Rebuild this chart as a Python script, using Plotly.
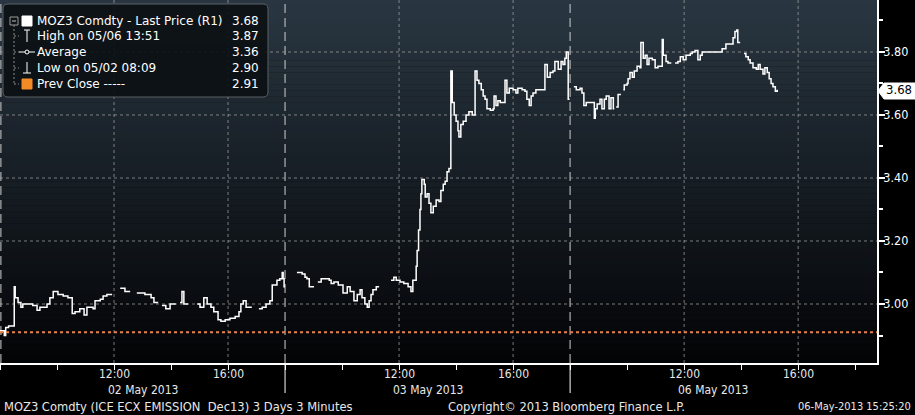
import plotly.graph_objects as go

# ---------------- data ----------------
DAYS = ["02 May 2013", "03 May 2013", "06 May 2013"]
SESSION_OPEN_MIN = 8 * 60      # 08:00
SESSION_LEN_MIN = 10 * 60      # 08:00 - 18:00

day1_times = ["08:00", "08:09", "08:12", "08:18", "08:30", "08:32", "08:38", "08:44", "08:48",
              "09:09", "09:18", "09:24", "09:39", "09:45", "09:52", "10:02", "10:13", "10:23",
              "10:32", "10:38", "10:48", "10:57", "11:03", "11:16", "11:20", "11:31", "11:37",
              "11:45", "11:56", "12:13", "12:23", "12:34", "12:48", "13:05", "13:18", "13:24",
              "13:33", "13:41", "13:49", "13:58", "14:10", "14:19", "14:23", "14:27", "14:36",
              "14:55", "15:01", "15:09", "15:16", "15:24", "15:30", "15:39", "15:45", "15:54",
              "16:04", "16:15", "16:23", "16:27", "16:32", "16:38", "16:50", "17:05", "17:12",
              "17:20", "17:28", "17:33", "17:43", "17:49", "17:54", "17:56", "17:58", "18:00"]
day1_prices = [2.915, 2.90, 2.925, 2.93, 3.055, 3.02, 3.005, 2.99, 3.00,
               2.995, 2.98, 2.99, 3.00, 3.02, 3.04, 3.03, 3.025, 3.02,
               2.97, 2.975, 2.985, 2.965, 2.99, 2.985, 3.01, 3.015, 3.025,
               3.03, None, 3.05, 3.04, None, 3.035, 3.03, 3.02, 3.005,
               None, 2.995, 2.985, 3.00, None, 3.005, 3.04, 3.00, None,
               3.00, 2.99, 3.02, 3.00, 2.99, 2.975, 2.95, 2.945, 2.95,
               2.955, 2.96, 2.975, 3.00, 3.01, 2.99, None, 2.985, 2.99,
               3.00, 3.01, 3.06, 3.075, 3.08, 3.10, 3.08, 3.055, 3.055]

day2_times = ["08:25", "08:36", "08:42", "08:46", "08:51", "09:01", "09:09", "09:16", "09:33",
              "09:37", "09:43", "09:52", "10:02", "10:11", "10:17", "10:25", "10:32", "10:38",
              "10:42", "10:48", "10:53", "10:57", "11:01", "11:05", "11:12", "11:18", "11:43",
              "11:49", "11:54", "12:02", "12:10", "12:19", "12:25", "12:29", "12:36", "12:38",
              "12:41", "12:44", "12:46", "12:48", "12:53", "12:55", "12:59", "13:03", "13:07",
              "13:12", "13:18", "13:24", "13:28", "13:33", "13:37", "13:41", "13:45", "13:49",
              "13:52", "13:56", "14:00", "14:04", "14:06", "14:10", "14:15", "14:21", "14:27",
              "14:34", "14:40", "14:44", "14:48", "14:53", "14:57", "15:01", "15:05", "15:12",
              "15:18", "15:20", "15:24", "15:28", "15:33", "15:43", "15:47", "15:52", "16:00",
              "16:06", "16:10", "16:19", "16:25", "16:29", "16:34", "16:38", "16:42", "16:48",
              "17:07", "17:12", "17:18", "17:24", "17:28", "17:35", "17:41", "17:45", "17:49",
              "17:52", "17:56", "17:59"]
day2_prices = [3.10, 3.095, 3.085, 3.08, 3.055, None, 3.07, 3.08, 3.075,
               3.065, 3.07, 3.06, 3.035, 3.055, 3.04, 3.01, 3.03, 3.045,
               3.02, 3.00, 2.99, 3.01, 3.03, 3.045, 3.055, None, 3.075,
               3.085, 3.075, 3.07, 3.065, 3.055, 3.04, 3.075, 3.12, 3.17,
               3.235, 3.30, 3.35, 3.395, 3.38, 3.34, 3.35, 3.32, 3.29,
               3.31, 3.33, 3.325, 3.36, 3.38, 3.39, 3.42, 3.43, 3.74,
               3.64, 3.60, 3.58, 3.55, 3.53, 3.57, 3.58, 3.60, 3.61,
               3.60, 3.74, 3.71, 3.70, 3.68, 3.66, 3.65, 3.62, 3.615,
               3.62, 3.66, 3.63, 3.645, 3.64, 3.71, 3.67, 3.685, 3.68,
               3.67, 3.685, 3.68, 3.675, 3.65, 3.63, 3.66, 3.67, 3.68,
               3.76, 3.72, 3.735, 3.74, 3.77, 3.745, 3.77, 3.76, 3.78,
               3.80, 3.65, 3.65]

day3_times = ["08:08", "08:13", "08:21", "08:25", "08:29", "08:34", "08:51", "08:53", "08:57",
              "09:03", "09:07", "09:12", "09:16", "09:22", "09:26", "09:31", "09:33", "09:37",
              "09:41", "09:47", "09:52", "09:54", "10:00", "10:02", "10:06", "10:11", "10:15",
              "10:21", "10:27", "10:29", "10:34", "10:38", "10:42", "10:46", "10:53", "10:59",
              "11:05", "11:14", "11:16", "11:22", "11:26", "11:33", "11:41", "11:47", "11:52",
              "11:58", "12:04", "12:13", "12:17", "12:23", "12:29", "12:34", "12:38", "13:20",
              "13:28", "13:43", "13:47", "13:51", "13:53", "13:58", "14:06", "14:10", "14:15",
              "14:19", "14:25", "14:32", "14:36", "14:40", "14:46", "14:50", "14:55", "14:59",
              "15:03", "15:07", "15:12", "15:16"]
day3_prices = [3.69, 3.68, 3.685, 3.67, 3.63, 3.64, 3.59, 3.62, 3.635,
               3.65, 3.62, 3.65, 3.66, 3.62, 3.655, 3.62, None, 3.625,
               3.665, None, 3.68, 3.695, 3.70, 3.715, 3.735, 3.72, 3.74,
               3.755, 3.75, 3.83, 3.78, 3.79, 3.76, 3.78, 3.775, 3.75,
               3.755, 3.84, 3.79, 3.77, 3.765, None, 3.765, 3.77, 3.785,
               3.775, 3.79, 3.795, 3.80, 3.805, 3.775, 3.79, 3.80, 3.81,
               3.825, 3.845, 3.865, 3.87, 3.83, None, 3.795, 3.785, 3.775,
               3.765, 3.75, 3.745, 3.76, 3.745, 3.73, 3.75, 3.735, 3.715,
               3.70, 3.69, 3.675, 3.68]

PREV_CLOSE = 2.91
LEGEND_ROWS = [("MOZ3 Comdty - Last Price (R1)", "3.68"),
               ("High on 05/06 13:51", "3.87"),
               ("Average", "3.36"),
               ("Low on 05/02 08:09", "2.90"),
               ("Prev Close -----", "2.91")]
LAST_PRICE = 3.68
Y_MAJOR = [3.00, 3.20, 3.40, 3.60, 3.80]
Y_MINOR = [2.90, 3.10, 3.30, 3.50, 3.70, 3.90]
X_LABEL_HOURS = ["12:00", "16:00"]
X_TICK_HOURS = ["08:00", "10:00", "12:00", "14:00", "16:00"]
FOOT_LEFT = "MOZ3 Comdty (ICE ECX EMISSION  Dec13) 3 Days 3 Minutes"
FOOT_MID = "Copyright\u00a9 2013 Bloomberg Finance L.P."
FOOT_RIGHT = "06-May-2013 15:25:20"

# ---------------- layout geometry ----------------
W, H = 915, 415
PL, PR, PT, PB = 0, 877, 0, 363       # plot area in pixels
Y_RANGE = [2.8127, 3.965]
X_MAX = 3 * SESSION_LEN_MIN + 46
NARROW = "DejaVu Sans Condensed"


def to_x(day, hhmm):
    h, m = hhmm.split(":")
    return day * SESSION_LEN_MIN + int(h) * 60 + int(m) - SESSION_OPEN_MIN


def px(x):
    return (x - PL) / (PR - PL)


def py(y):
    return 1 - (y - PT) / (PB - PT)


xs, ys = [], []
for d, (times, prices) in enumerate([(day1_times, day1_prices),
                                     (day2_times, day2_prices),
                                     (day3_times, day3_prices)]):
    prev = None
    for t, p in zip(times, prices):
        X = to_x(d, t)
        if p is None:
            if prev is not None:
                xs.append(X); ys.append(prev)
            xs.append(X); ys.append(None)
            prev = None
        else:
            xs.append(X); ys.append(p)
            prev = p
    xs.append(xs[-1]); ys.append(None)

fig = go.Figure()
fig.add_trace(go.Scatter(x=xs, y=ys, mode="lines", line=dict(color="white", width=1.5, shape="hv"),
                         connectgaps=False, hoverinfo="skip", showlegend=False))

shapes = []
# gradient background
N = 60
top = (41, 54, 65)
bot = (3, 4, 6)
for i in range(N):
    f = i / (N - 1)
    c = tuple(int(round(top[k] + (bot[k] - top[k]) * f)) for k in range(3))
    shapes.append(dict(type="rect", xref="paper", yref="paper", x0=0, x1=1,
                       y0=1 - (i + 1) / N, y1=1 - i / N + 0.001, line=dict(width=0),
                       fillcolor="rgb(%d,%d,%d)" % c, layer="below"))
# horizontal grid
for v in Y_MAJOR:
    shapes.append(dict(type="line", xref="paper", yref="y", x0=0, x1=1, y0=v, y1=v,
                       line=dict(color="rgba(160,160,160,0.75)", width=1, dash="3px,3px"), layer="below"))
# vertical grid (12:00 and 16:00)
for d in range(3):
    for t in X_LABEL_HOURS:
        shapes.append(dict(type="line", xref="x", yref="paper", x0=to_x(d, t), x1=to_x(d, t), y0=0, y1=1,
                           line=dict(color="rgba(160,160,160,0.75)", width=1, dash="3px,3px"), layer="below"))
# day separators
for d in range(0, 3):
    xp = px(PL + (PR - PL) * (d * SESSION_LEN_MIN) / X_MAX) + (0.001 if d == 0 else 0)
    shapes.append(dict(type="line", xref="paper", yref="paper", x0=xp, x1=xp, y0=0, y1=1,
                       line=dict(color="rgba(190,190,190,0.85)", width=1.3, dash="9px,5px"), layer="below"))
    if d > 0:
        shapes.append(dict(type="line", xref="paper", yref="paper", x0=xp, x1=xp, y0=py(393), y1=0,
                           line=dict(color="white", width=1)))
# prev close
shapes.append(dict(type="line", xref="paper", yref="y", x0=0, x1=1, y0=PREV_CLOSE, y1=PREV_CLOSE,
                   line=dict(color="#e8814a", width=2, dash="dot")))

# legend box (rounded)
lx0, lx1, ly0, ly1, r = 3, 268, 4, 97, 5
path = ("M {a},{b} L {c},{b} Q {x1},{b} {x1},{d} L {x1},{e} Q {x1},{y1} {c},{y1} "
        "L {a},{y1} Q {x0},{y1} {x0},{e} L {x0},{d} Q {x0},{b} {a},{b} Z").format(
    a=px(lx0 + r), b=py(ly0), c=px(lx1 - r), d=py(ly0 + r), e=py(ly1 - r),
    x0=px(lx0), x1=px(lx1), y1=py(ly1))
shapes.append(dict(type="path", xref="paper", yref="paper", path=path,
                   fillcolor="rgba(12,16,20,0.92)", line=dict(color="#5a6066", width=1)))

def seg(x0, y0, x1, y1, color="white", width=1, dash=None):
    ln = dict(color=color, width=width)
    if dash:
        ln["dash"] = dash
    shapes.append(dict(type="line", xref="paper", yref="paper",
                       x0=px(x0), y0=py(y0), x1=px(x1), y1=py(y1), line=ln))

def box(x0, y0, x1, y1, fill, color=None):
    shapes.append(dict(type="rect", xref="paper", yref="paper",
                       x0=px(x0), y0=py(y0), x1=px(x1), y1=py(y1), fillcolor=fill,
                       line=dict(color=color or fill, width=1)))

row_y = [21, 36, 52, 68, 84]
# tree
box(10, 17, 18, 25, "rgba(0,0,0,0)", "#9a9a9a")
seg(12, 21, 16, 21, "#bdbdbd")
seg(14, 25, 14, 84, "#8a8a8a", 1, "2px,2px")
for yy in row_y[1:]:
    seg(14, yy, 19, yy, "#8a8a8a", 1, "2px,2px")
# icons
box(22, 16, 32, 26, "white")
seg(27, 30, 27, 42); seg(24, 30, 30, 30)
seg(19, 52, 35, 52)
shapes.append(dict(type="circle", xref="paper", yref="paper", x0=px(25), x1=px(29), y0=py(50), y1=py(54),
                   line=dict(color="white", width=1), fillcolor="rgba(12,16,20,1)"))
seg(27, 62, 27, 73); seg(23, 73, 31, 73)
box(22, 79, 32, 89, "#f28a26")

# last price tag
tag = "M {a},{m} L {b},{t} L {c},{t} L {c},{bt} L {b},{bt} Z".format(
    a=px(878), b=px(884), c=px(915), m=py(91), t=py(83), bt=py(99))
shapes.append(dict(type="path", xref="paper", yref="paper", path=tag, fillcolor="white",
                   line=dict(color="white", width=1)))

ann = []
LF = dict(family="DejaVu Sans", size=12, color="white")
for (lab, val), yy in zip(LEGEND_ROWS, row_y):
    ann.append(dict(x=px(35), y=py(yy), xref="paper", yref="paper", text=lab, showarrow=False,
                    xanchor="left", yanchor="middle", font=LF))
    ann.append(dict(x=px(261), y=py(yy), xref="paper", yref="paper", text=val, showarrow=False,
                    xanchor="right", yanchor="middle", font=LF))
ann.append(dict(x=px(884), y=LAST_PRICE, xref="paper", yref="y", text="%.2f" % LAST_PRICE,
                showarrow=False, xanchor="left", yanchor="middle",
                font=dict(family=NARROW, size=13, color="black")))
AF = dict(family=NARROW, size=12, color="#e8e8e8")
for d, day in enumerate(DAYS):
    for t in X_LABEL_HOURS:
        xpx = PL + (PR - PL) * to_x(d, t) / X_MAX
        ann.append(dict(x=px(xpx), y=py(374), xref="paper", yref="paper", text=t, showarrow=False,
                        xanchor="center", yanchor="middle", font=AF))
    cx = PL + (PR - PL) * (d * SESSION_LEN_MIN + SESSION_LEN_MIN / 2) / X_MAX
    ann.append(dict(x=px(cx), y=py(390), xref="paper", yref="paper", text=day, showarrow=False,
                    xanchor="center", yanchor="middle", font=AF))
ann.append(dict(x=px(2), y=py(407), xref="paper", yref="paper", text=FOOT_LEFT, showarrow=False,
                xanchor="left", yanchor="middle", font=dict(family=NARROW, size=12.8, color="#e8e8e8")))
ann.append(dict(x=px(566), y=py(407), xref="paper", yref="paper", text=FOOT_MID, showarrow=False,
                xanchor="center", yanchor="middle", font=dict(family=NARROW, size=12.8, color="#e8e8e8")))
ann.append(dict(x=px(913), y=py(407), xref="paper", yref="paper", text=FOOT_RIGHT, showarrow=False,
                xanchor="right", yanchor="middle", font=dict(family=NARROW, size=11, color="#e8e8e8")))

tickx = [to_x(d, t) for d in range(3) for t in X_TICK_HOURS] + [3 * SESSION_LEN_MIN]
fig.update_layout(
    width=W, height=H,
    margin=dict(l=PL, r=W - PR, t=PT, b=H - PB, pad=0),
    paper_bgcolor="black", plot_bgcolor="black",
    shapes=shapes, annotations=ann, showlegend=False,
    xaxis=dict(range=[0, X_MAX], showgrid=False, zeroline=False, showline=True, linecolor="white",
               linewidth=1.5, ticks="outside", tickvals=tickx, ticklen=5, tickcolor="white",
               showticklabels=False, fixedrange=True),
    yaxis=dict(range=Y_RANGE, side="right", showgrid=False, zeroline=False, showline=True,
               linecolor="white", linewidth=1.5, ticks="outside", tickvals=Y_MAJOR,
               ticktext=["%.2f" % v for v in Y_MAJOR], ticklen=6, tickcolor="white", tickwidth=1.5,
               ticklabelstandoff=-4,
               tickfont=dict(family=NARROW, size=12.5, color="white"),
               minor=dict(tickvals=Y_MINOR, ticks="outside", ticklen=4, tickcolor="white"),
               fixedrange=True),
)
fig.write_html("out.html", config={"displayModeBar": False},
               post_script="document.body.style.margin='0';document.body.style.background='black';")
